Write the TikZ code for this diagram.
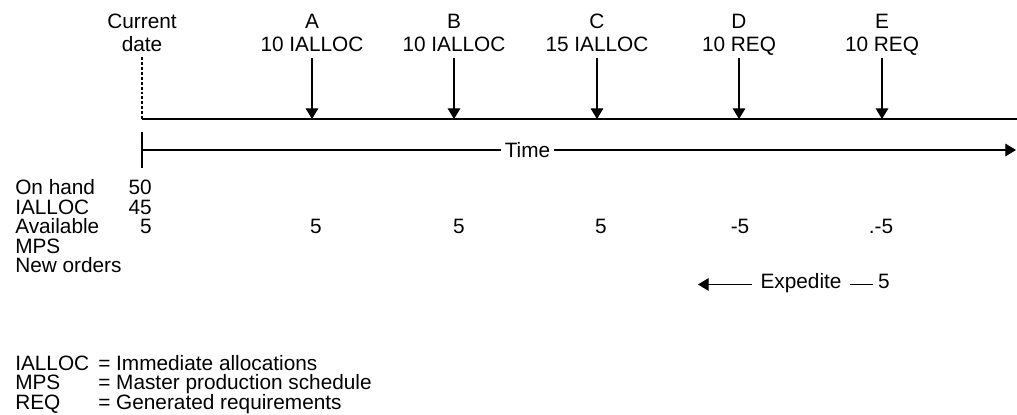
\documentclass[tikz,border=0pt]{standalone}
\usepackage{fontspec}
\setmainfont{Liberation Sans}
\usetikzlibrary{arrows.meta}
\begin{document}
\begin{tikzpicture}[x=0.75pt,y=-0.75pt,
  txt/.style={inner sep=0pt, font=\fontsize{15.6}{19}\selectfont},
  lbl/.style={txt, anchor=base},
  rowlbl/.style={txt, anchor=base west},
  valr/.style={txt, anchor=base east},
  ln/.style={line width=0.8pt},
  tip/.style={-{Triangle[length=8pt,width=9.5pt]}}]
\useasboundingbox (0,0) rectangle (1017,414);

% current date marker
\node[lbl] (cur) at (142,28) {Current};
\node[lbl] (date) at (142,51) {date};
\coordinate (d0) at (142,57);
\coordinate (d1) at (142,119);
\draw[ln, dash pattern=on 2.2pt off 1.5pt] (d0) -- (d1);

% event axis
\coordinate (axend) at (1017,119);
\draw[ln] (d1) -- (axend);

% scheduled events
\foreach \x/\n/\q in {312/A/10 IALLOC, 454/B/10 IALLOC, 597/C/15 IALLOC, 739/D/10 REQ, 882/E/10 REQ}{
  \node[lbl] (ev\n) at (\x,28) {\n};
  \node[lbl] (q\n) at (\x,51) {\q};
  \coordinate (s\n) at (\x,58);
  \coordinate (e\n) at (\x,119);
  \draw[ln, tip] (s\n) -- (e\n);
}

% time axis
\coordinate (tk0) at (142,132);
\coordinate (tk1) at (142,168);
\draw[ln] (tk0) -- (tk1);
\coordinate (t0) at (142,150);
\coordinate (tend) at (1016,150);
\node[txt, inner xsep=2.3pt] (time) at (527.5,150) {Time};
\draw[ln] (t0) -- (time.west);
\draw[ln, tip] (time.east) -- (tend);

% record rows
\node[rowlbl] (onhand) at (15,194) {On hand};
\node[rowlbl] (ialloc) at (15,214) {IALLOC};
\node[rowlbl] (avail) at (15,233) {Available};
\node[rowlbl] (mps) at (15,253) {MPS};
\node[rowlbl] (neword) at (15,272) {New orders};

\node[valr] (v50) at (152,194) {50};
\node[valr] (v45) at (152,214) {45};
\node[valr] (av0) at (152,233) {5};
\node[lbl] (avA) at (316,233) {5};
\node[lbl] (avB) at (459,233) {5};
\node[lbl] (avC) at (601,233) {5};
\node[lbl] (avD) at (740,233) {-5};
\node[lbl] (avE) at (881,233) {.-5};

% expedite
\node[lbl, inner xsep=6pt] (exp) at (801,288) {Expedite};
\node[lbl] (n5) at (884,288) {5};
\coordinate (xtip) at (698,0);
\draw[ln, tip] (exp.mid west) -- (exp.mid west -| xtip);
\draw[ln] (exp.mid east) -- ([xshift=-3.5pt]n5.mid west);

% legend
\node[rowlbl] (kI) at (15,370) {IALLOC};
\node[rowlbl] (kM) at (15,389.5) {MPS};
\node[rowlbl] (kR) at (15,409) {REQ};
\node[rowlbl] (dI) at (98,370) {= Immediate allocations};
\node[rowlbl] (dM) at (98,389.5) {= Master production schedule};
\node[rowlbl] (dR) at (98,409) {= Generated requirements};
\end{tikzpicture}
\end{document}
